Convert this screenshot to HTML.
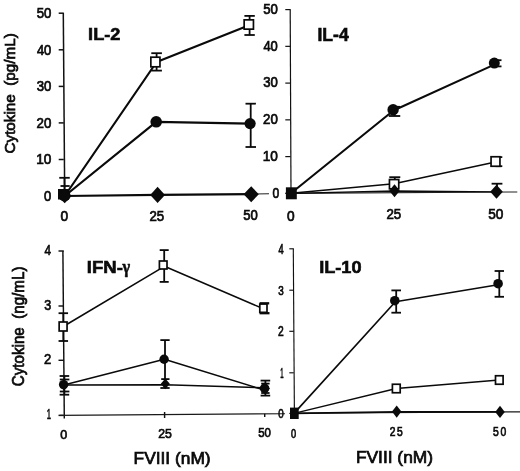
<!DOCTYPE html>
<html><head><meta charset="utf-8"><title>Cytokine figure</title>
<style>
html,body{margin:0;padding:0;background:#fff;}
svg{display:block;}
text{white-space:pre;font-family:"Liberation Sans",sans-serif;fill:#0a0a0a;stroke:#0a0a0a;stroke-width:0.72px;}
.b{font-weight:bold;stroke-width:0.6px;}
</style></head><body>
<svg width="520" height="471" viewBox="0 0 520 471">
<rect width="520" height="471" fill="#fff"/>

<line x1="63.3" y1="13" x2="64.7" y2="196" stroke="#111" stroke-width="1.5" fill="none"/>
<line x1="58.7" y1="13.2" x2="63.8" y2="13.2" stroke="#111" stroke-width="1.5" fill="none"/>
<text transform="translate(36.67,18.16) scale(0.914,1)" font-size="14.41">50</text>
<line x1="58.7" y1="49.8" x2="63.8" y2="49.8" stroke="#111" stroke-width="1.5" fill="none"/>
<text transform="translate(36.9,54.76) scale(0.899,1)" font-size="14.41">40</text>
<line x1="58.7" y1="86.4" x2="63.8" y2="86.4" stroke="#111" stroke-width="1.5" fill="none"/>
<text transform="translate(36.7,91.36) scale(0.912,1)" font-size="14.41">30</text>
<line x1="58.7" y1="122.9" x2="63.8" y2="122.9" stroke="#111" stroke-width="1.5" fill="none"/>
<text transform="translate(36.54,127.86) scale(0.923,1)" font-size="14.41">20</text>
<line x1="58.7" y1="159.5" x2="63.8" y2="159.5" stroke="#111" stroke-width="1.5" fill="none"/>
<text transform="translate(36.16,164.46) scale(0.947,1)" font-size="14.41">10</text>
<line x1="58.7" y1="195.8" x2="63.8" y2="195.8" stroke="#111" stroke-width="1.5" fill="none"/>
<text transform="translate(44.08,200.76) scale(0.902,1)" font-size="14.41">0</text>
<polyline points="64.7,196 157.5,194.8 251,194.1" stroke="#0a0a0a" stroke-width="2.2" fill="none" stroke-linejoin="round"/>
<line x1="251" y1="194" x2="269" y2="193.8" stroke="#222" stroke-width="1.1" fill="none"/>
<polyline points="64.7,196 156.2,121.8 250,123.6" stroke="#0a0a0a" stroke-width="2.2" fill="none" stroke-linejoin="round"/>
<polyline points="64.7,196 156.6,62 249.8,25" stroke="#0a0a0a" stroke-width="2.2" fill="none" stroke-linejoin="round"/>
<line x1="64.5" y1="177.8" x2="64.5" y2="195" stroke="#0a0a0a" stroke-width="1.8" fill="none"/>
<line x1="59.25" y1="177.8" x2="69.75" y2="177.8" stroke="#0a0a0a" stroke-width="1.8" fill="none"/>
<line x1="60.5" y1="186" x2="69.7" y2="186" stroke="#0a0a0a" stroke-width="1.8" fill="none"/>
<line x1="156.6" y1="53.2" x2="156.6" y2="70.6" stroke="#0a0a0a" stroke-width="1.8" fill="none"/>
<line x1="151.3" y1="53.2" x2="161.9" y2="53.2" stroke="#0a0a0a" stroke-width="1.8" fill="none"/>
<line x1="151.3" y1="70.6" x2="161.9" y2="70.6" stroke="#0a0a0a" stroke-width="1.8" fill="none"/>
<line x1="249.6" y1="15.9" x2="249.6" y2="35" stroke="#0a0a0a" stroke-width="1.8" fill="none"/>
<line x1="244.4" y1="15.9" x2="254.8" y2="15.9" stroke="#0a0a0a" stroke-width="1.8" fill="none"/>
<line x1="244.4" y1="35" x2="254.8" y2="35" stroke="#0a0a0a" stroke-width="1.8" fill="none"/>
<line x1="250.7" y1="103.7" x2="250.7" y2="147" stroke="#0a0a0a" stroke-width="1.8" fill="none"/>
<line x1="245.5" y1="103.7" x2="255.9" y2="103.7" stroke="#0a0a0a" stroke-width="1.8" fill="none"/>
<line x1="245.5" y1="147" x2="255.9" y2="147" stroke="#0a0a0a" stroke-width="1.8" fill="none"/>
<rect x="150.85" y="57.2" width="9.1" height="9.6" fill="#fff" stroke="#0a0a0a" stroke-width="1.7"/>
<rect x="244.15" y="19.85" width="9.3" height="9.3" fill="#fff" stroke="#0a0a0a" stroke-width="1.7"/>
<circle cx="156.2" cy="121.8" r="5.8" fill="#0a0a0a"/>
<circle cx="250.1" cy="123.6" r="5.6" fill="#0a0a0a"/>
<polygon points="150.2,194.9 157.6,186.7 165,194.9 157.6,203.1" fill="#0a0a0a"/>
<polygon points="243.6,194.2 251.2,186.2 258.8,194.2 251.2,202.2" fill="#0a0a0a"/>
<rect x="58" y="189" width="11" height="10.5" fill="#0a0a0a"/>
<circle cx="64.5" cy="195.5" r="6" fill="#0a0a0a"/>
<polygon points="57.9,196 64.7,188.7 71.5,196 64.7,203.3" fill="#0a0a0a"/>
<text transform="translate(60.39,221.36) scale(0.951,1)" font-size="14.41">0</text>
<text transform="translate(149.49,220.76) scale(0.919,1)" font-size="14.41">25</text>
<text transform="translate(243.23,220.26) scale(0.907,1)" font-size="14.41">50</text>
<text transform="translate(88.09,40.2) scale(1.082,1)" font-size="16.76" class="b">IL-2</text>
<text transform="translate(15.3,153.48) rotate(-90) scale(1.008,1)" font-size="15.12">Cytokine  (pg/mL)</text>
<line x1="290.2" y1="9.6" x2="291" y2="193.5" stroke="#111" stroke-width="1.2" fill="none"/>
<line x1="285.3" y1="9.6" x2="290.6" y2="9.6" stroke="#111" stroke-width="1.2" fill="none"/>
<text transform="translate(263.17,13.86) scale(0.914,1)" font-size="14.41">50</text>
<line x1="285.3" y1="46.35" x2="290.6" y2="46.35" stroke="#111" stroke-width="1.2" fill="none"/>
<text transform="translate(263.4,50.61) scale(0.899,1)" font-size="14.41">40</text>
<line x1="285.3" y1="83.1" x2="290.6" y2="83.1" stroke="#111" stroke-width="1.2" fill="none"/>
<text transform="translate(263.2,87.36) scale(0.912,1)" font-size="14.41">30</text>
<line x1="285.3" y1="119.85" x2="290.6" y2="119.85" stroke="#111" stroke-width="1.2" fill="none"/>
<text transform="translate(263.04,124.11) scale(0.923,1)" font-size="14.41">20</text>
<line x1="285.3" y1="156.6" x2="290.6" y2="156.6" stroke="#111" stroke-width="1.2" fill="none"/>
<text transform="translate(262.66,160.86) scale(0.947,1)" font-size="14.41">10</text>
<line x1="285.3" y1="193.35" x2="290.6" y2="193.35" stroke="#111" stroke-width="1.2" fill="none"/>
<text transform="translate(272.53,197.96) scale(0.868,1)" font-size="13.98">0</text>
<line x1="285.5" y1="193.4" x2="517.3" y2="192" stroke="#222" stroke-width="1.1" fill="none"/>
<polyline points="291,193.3 394.5,191 496.5,191.9" stroke="#0a0a0a" stroke-width="1.3" fill="none" stroke-linejoin="round"/>
<polyline points="291,193.3 394,183.8 495.5,161.9" stroke="#0a0a0a" stroke-width="1.5" fill="none" stroke-linejoin="round"/>
<polyline points="291,193.3 393.5,110.5 494.3,64.6" stroke="#0a0a0a" stroke-width="2.1" fill="none" stroke-linejoin="round"/>
<line x1="394.5" y1="110.25" x2="394.5" y2="116" stroke="#0a0a0a" stroke-width="1.8" fill="none"/>
<line x1="388.75" y1="116" x2="400.25" y2="116" stroke="#0a0a0a" stroke-width="1.8" fill="none"/>
<line x1="394" y1="106.8" x2="400.3" y2="106.8" stroke="#0a0a0a" stroke-width="1.8" fill="none"/>
<line x1="494" y1="60.2" x2="501.5" y2="60.2" stroke="#0a0a0a" stroke-width="1.8" fill="none"/>
<line x1="494" y1="66.4" x2="501.5" y2="66.4" stroke="#0a0a0a" stroke-width="1.8" fill="none"/>
<line x1="394.8" y1="177.2" x2="394.8" y2="183" stroke="#0a0a0a" stroke-width="1.8" fill="none"/>
<line x1="389.3" y1="177.2" x2="400.3" y2="177.2" stroke="#0a0a0a" stroke-width="1.8" fill="none"/>
<line x1="495.5" y1="157.1" x2="502.3" y2="157.1" stroke="#0a0a0a" stroke-width="1.8" fill="none"/>
<line x1="495.5" y1="166.2" x2="502.3" y2="166.2" stroke="#0a0a0a" stroke-width="1.8" fill="none"/>
<line x1="497" y1="183.7" x2="497" y2="191.75" stroke="#0a0a0a" stroke-width="1.8" fill="none"/>
<line x1="491.6" y1="183.7" x2="502.4" y2="183.7" stroke="#0a0a0a" stroke-width="1.8" fill="none"/>
<rect x="389.45" y="179.55" width="9.3" height="9.3" fill="#fff" stroke="#0a0a0a" stroke-width="1.7"/>
<rect x="491.05" y="156.75" width="8.9" height="9.5" fill="#fff" stroke="#0a0a0a" stroke-width="1.7"/>
<circle cx="393.1" cy="109.7" r="5.7" fill="#0a0a0a"/>
<circle cx="494.3" cy="63.1" r="5.5" fill="#0a0a0a"/>
<polygon points="389.2,190.8 394.5,184.3 399.8,190.8 394.5,197.3" fill="#0a0a0a"/>
<polygon points="490.2,191.7 496.5,184.7 502.8,191.7 496.5,198.7" fill="#0a0a0a"/>
<rect x="285.9" y="187.3" width="10.9" height="12" fill="#0a0a0a"/>
<text transform="translate(287.09,220.86) scale(0.951,1)" font-size="14.41">0</text>
<text transform="translate(386.39,219.46) scale(0.919,1)" font-size="14.41">25</text>
<text transform="translate(488.2,219.05) scale(0.929,1)" font-size="14.69">50</text>
<text transform="translate(317.42,41) scale(0.976,1)" font-size="18.02" class="b">IL-4</text>
<line x1="62.9" y1="251" x2="64.3" y2="418.5" stroke="#111" stroke-width="1.45" fill="none"/>
<line x1="58.5" y1="251" x2="63.8" y2="251" stroke="#111" stroke-width="1.45" fill="none"/>
<text transform="translate(44.39,254.8) scale(0.765,1)" font-size="15.41">4</text>
<line x1="58.5" y1="306" x2="63.8" y2="306" stroke="#111" stroke-width="1.45" fill="none"/>
<text transform="translate(44.18,309.65) scale(0.837,1)" font-size="14.97">3</text>
<line x1="58.5" y1="360.3" x2="63.8" y2="360.3" stroke="#111" stroke-width="1.45" fill="none"/>
<text transform="translate(44.01,364.1) scale(0.858,1)" font-size="15.19">2</text>
<line x1="58.5" y1="415.4" x2="63.8" y2="415.4" stroke="#111" stroke-width="1.45" fill="none"/>
<text transform="translate(46.72,419.2) scale(0.497,1)" font-size="15.41">1</text>
<line x1="59.6" y1="415.4" x2="285" y2="413.7" stroke="#1a1a1a" stroke-width="1.15" fill="none"/>
<line x1="164.6" y1="412" x2="164.6" y2="418" stroke="#111" stroke-width="1.45" fill="none"/>
<line x1="264.7" y1="413.8" x2="264.7" y2="417" stroke="#111" stroke-width="1.45" fill="none"/>
<polyline points="63.8,385 165.3,384.8 265,387.8" stroke="#0a0a0a" stroke-width="1.5" fill="none" stroke-linejoin="round"/>
<polyline points="63.8,385 164.4,359.3 265,390.3" stroke="#0a0a0a" stroke-width="1.5" fill="none" stroke-linejoin="round"/>
<polyline points="63.3,326.5 164.4,266.3 263.4,308.8" stroke="#0a0a0a" stroke-width="1.55" fill="none" stroke-linejoin="round"/>
<line x1="63.3" y1="313.2" x2="63.3" y2="341" stroke="#0a0a0a" stroke-width="1.8" fill="none"/>
<line x1="58.55" y1="313.2" x2="68.05" y2="313.2" stroke="#0a0a0a" stroke-width="1.8" fill="none"/>
<line x1="58.55" y1="341" x2="68.05" y2="341" stroke="#0a0a0a" stroke-width="1.8" fill="none"/>
<line x1="164.2" y1="250.1" x2="164.2" y2="281.9" stroke="#0a0a0a" stroke-width="1.8" fill="none"/>
<line x1="159.7" y1="250.1" x2="168.7" y2="250.1" stroke="#0a0a0a" stroke-width="1.8" fill="none"/>
<line x1="159.7" y1="281.9" x2="168.7" y2="281.9" stroke="#0a0a0a" stroke-width="1.8" fill="none"/>
<line x1="259.6" y1="303.3" x2="269.2" y2="303.3" stroke="#0a0a0a" stroke-width="2.3" fill="none"/>
<line x1="259.6" y1="313.2" x2="269.5" y2="313.2" stroke="#0a0a0a" stroke-width="2.3" fill="none"/>
<line x1="64.4" y1="376" x2="64.4" y2="394.7" stroke="#0a0a0a" stroke-width="1.8" fill="none"/>
<line x1="59.6" y1="376" x2="69.2" y2="376" stroke="#0a0a0a" stroke-width="1.8" fill="none"/>
<line x1="59.6" y1="394.7" x2="69.2" y2="394.7" stroke="#0a0a0a" stroke-width="1.8" fill="none"/>
<line x1="59.8" y1="379.5" x2="69.4" y2="379.5" stroke="#0a0a0a" stroke-width="1.8" fill="none"/>
<line x1="59.8" y1="391.5" x2="69.4" y2="391.5" stroke="#0a0a0a" stroke-width="1.8" fill="none"/>
<line x1="165" y1="340.1" x2="165" y2="388" stroke="#0a0a0a" stroke-width="1.8" fill="none"/>
<line x1="160.35" y1="340.1" x2="169.65" y2="340.1" stroke="#0a0a0a" stroke-width="1.8" fill="none"/>
<line x1="160.35" y1="388" x2="169.65" y2="388" stroke="#0a0a0a" stroke-width="1.8" fill="none"/>
<line x1="161.2" y1="379.1" x2="169.5" y2="379.1" stroke="#0a0a0a" stroke-width="1.8" fill="none"/>
<line x1="265.4" y1="380.6" x2="265.4" y2="395.6" stroke="#0a0a0a" stroke-width="1.8" fill="none"/>
<line x1="260.6" y1="380.6" x2="270.2" y2="380.6" stroke="#0a0a0a" stroke-width="1.8" fill="none"/>
<line x1="260.6" y1="395.6" x2="270.2" y2="395.6" stroke="#0a0a0a" stroke-width="1.8" fill="none"/>
<line x1="261.2" y1="383.6" x2="269.6" y2="383.6" stroke="#0a0a0a" stroke-width="1.8" fill="none"/>
<line x1="261.2" y1="393" x2="269.6" y2="393" stroke="#0a0a0a" stroke-width="1.8" fill="none"/>
<rect x="59.15" y="322" width="7.9" height="9" fill="#fff" stroke="#0a0a0a" stroke-width="1.7"/>
<rect x="159.4" y="261" width="7.6" height="8" fill="#fff" stroke="#0a0a0a" stroke-width="1.7"/>
<rect x="259.8" y="304.05" width="7.2" height="8.3" fill="#fff" stroke="#0a0a0a" stroke-width="1.7"/>
<circle cx="63.6" cy="384.6" r="4.7" fill="#0a0a0a"/>
<circle cx="164.1" cy="359.2" r="4.7" fill="#0a0a0a"/>
<circle cx="264.6" cy="388.3" r="4.8" fill="#0a0a0a"/>
<polygon points="59.3,385.2 63.9,379.8 68.5,385.2 63.9,390.6" fill="#0a0a0a"/>
<polygon points="160.8,383.8 165.3,378.4 169.8,383.8 165.3,389.2" fill="#0a0a0a"/>
<polygon points="260.2,388.5 265,382.5 269.8,388.5 265,394.5" fill="#0a0a0a"/>
<text transform="translate(60.31,438.66) scale(0.926,1)" font-size="13.56">0</text>
<text transform="translate(158.14,438.06) scale(0.904,1)" font-size="13.56">25</text>
<text transform="translate(258.14,436.67) scale(0.879,1)" font-size="12.99">50</text>
<text transform="translate(86.86,272.5) scale(1.107,1)" font-size="16.72" class="b">IFN-<tspan font-family="Liberation Serif, serif" font-size="18.4" dx="-0.27" textLength="6.86" lengthAdjust="spacingAndGlyphs">γ</tspan></text>
<text transform="translate(23.8,386.17) rotate(-90) scale(0.957,1)" font-size="15.84">Cytokine  (ng/mL)</text>
<text transform="translate(133.58,463.8) scale(1.056,1)" font-size="16.42">FVIII (nM)</text>
<line x1="293.3" y1="248.8" x2="294.4" y2="414" stroke="#111" stroke-width="1.15" fill="none"/>
<line x1="289.3" y1="248.8" x2="293.8" y2="248.8" stroke="#111" stroke-width="1.15" fill="none"/>
<text transform="translate(278.41,253.9) scale(0.665,1)" font-size="13.95">4</text>
<line x1="289.3" y1="290.2" x2="293.8" y2="290.2" stroke="#111" stroke-width="1.15" fill="none"/>
<text transform="translate(278.24,295.16) scale(0.728,1)" font-size="13.56">3</text>
<line x1="289.3" y1="331.3" x2="293.8" y2="331.3" stroke="#111" stroke-width="1.15" fill="none"/>
<text transform="translate(278.11,336.4) scale(0.746,1)" font-size="13.75">2</text>
<line x1="289.3" y1="372.8" x2="293.8" y2="372.8" stroke="#111" stroke-width="1.15" fill="none"/>
<text transform="translate(280.24,377.9) scale(0.432,1)" font-size="13.95">1</text>
<line x1="289.3" y1="413.4" x2="293.8" y2="413.4" stroke="#111" stroke-width="1.15" fill="none"/>
<text transform="translate(278.24,418.36) scale(0.722,1)" font-size="13.56">0</text>
<line x1="294" y1="413.3" x2="520" y2="411.8" stroke="#1a1a1a" stroke-width="1.15" fill="none"/>
<polyline points="294,413.4 396.7,411.8 500,411.9" stroke="#0a0a0a" stroke-width="1.8" fill="none" stroke-linejoin="round"/>
<polyline points="294,413.4 396.3,388.5 499.3,380" stroke="#0a0a0a" stroke-width="1.4" fill="none" stroke-linejoin="round"/>
<polyline points="294,413.4 395.4,301.8 498.1,284.8" stroke="#0a0a0a" stroke-width="1.65" fill="none" stroke-linejoin="round"/>
<line x1="396.2" y1="290.4" x2="396.2" y2="312.7" stroke="#0a0a0a" stroke-width="1.8" fill="none"/>
<line x1="391.4" y1="290.4" x2="401" y2="290.4" stroke="#0a0a0a" stroke-width="1.8" fill="none"/>
<line x1="391.4" y1="312.7" x2="401" y2="312.7" stroke="#0a0a0a" stroke-width="1.8" fill="none"/>
<line x1="499.3" y1="271" x2="499.3" y2="296.8" stroke="#0a0a0a" stroke-width="1.8" fill="none"/>
<line x1="494.6" y1="271" x2="504" y2="271" stroke="#0a0a0a" stroke-width="1.8" fill="none"/>
<line x1="494.6" y1="296.8" x2="504" y2="296.8" stroke="#0a0a0a" stroke-width="1.8" fill="none"/>
<rect x="392.4" y="384.25" width="7.8" height="8.5" fill="#fff" stroke="#0a0a0a" stroke-width="1.7"/>
<rect x="495.5" y="375.75" width="7.6" height="8.5" fill="#fff" stroke="#0a0a0a" stroke-width="1.7"/>
<circle cx="394.8" cy="300.7" r="4.8" fill="#0a0a0a"/>
<circle cx="498.1" cy="283.7" r="4.8" fill="#0a0a0a"/>
<polygon points="392,411.6 396.7,405.5 401.4,411.6 396.7,417.7" fill="#0a0a0a"/>
<polygon points="495.2,411.9 500,405.8 504.8,411.9 500,418" fill="#0a0a0a"/>
<rect x="290" y="407.6" width="8.7" height="11.4" fill="#0a0a0a"/>
<text transform="translate(291.04,437.68) scale(0.749,1)" font-size="12.29">0</text>
<text transform="translate(389.69,436.47) scale(0.810,1)" font-size="12.71" letter-spacing="1.98">25</text>
<text transform="translate(493.04,435.97) scale(0.789,1)" font-size="13.14" letter-spacing="2.03">50</text>
<text transform="translate(319.18,273.33) scale(1.045,1)" font-size="17.37" class="b">IL-10</text>
<text transform="translate(355.88,463.3) scale(1.058,1)" font-size="16.42">FVIII (nM)</text>
</svg></body></html>
